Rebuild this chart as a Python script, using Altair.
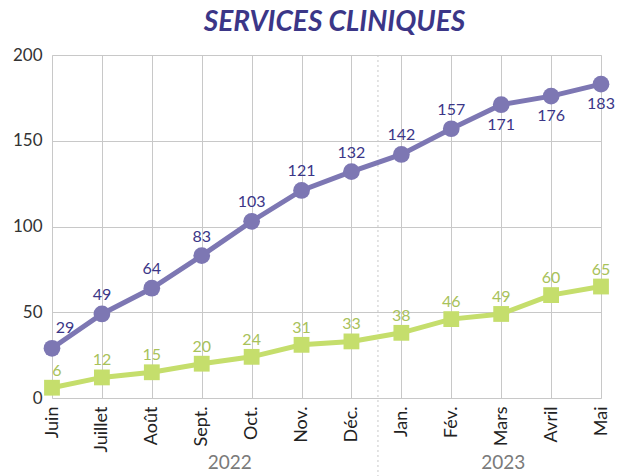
import altair as alt
import pandas as pd

months = ["Juin", "Juillet", "Août", "Sept.", "Oct.", "Nov.", "Déc.",
          "Jan.", "Fév.", "Mars", "Avril", "Mai"]
services = [29, 49, 64, 83, 103, 121, 132, 142, 157, 171, 176, 183]
other = [6, 12, 15, 20, 24, 31, 33, 38, 46, 49, 60, 65]
labels_below = ["Mars", "Avril", "Mai"]
years = ["2022", "2023"]
year_anchor = ["Sept.", "Mars"]

PURPLE = "#7d77b3"
PURPLE_TXT = "#3b3687"
GREEN = "#c5de6c"
GREEN_TXT = "#a8c25a"
FONT = "Lato"

df_p = pd.DataFrame({"month": months, "value": services})
df_p["below"] = df_p["month"].isin(labels_below)
df_p["first"] = df_p["month"] == months[0]
df_g = pd.DataFrame({"month": months, "value": other})
df_g["first"] = df_g["month"] == months[0]

x_enc = alt.X(
    "month:O", sort=months,
    scale=alt.Scale(type="point", padding=0),
    axis=alt.Axis(labelAngle=-90, grid=True, gridColor="#c8c8c8", ticks=False,
                  domain=False, title=None, labelFontSize=18, labelPadding=8,
                  labelColor="#222222", labelFont=FONT),
)
y_enc = alt.Y(
    "value:Q", scale=alt.Scale(domain=[0, 200], nice=False),
    axis=alt.Axis(values=[0, 50, 100, 150, 200], grid=True, gridColor="#c8c8c8",
                  ticks=False, domain=False, title=None, labelFontSize=17,
                  labelPadding=10, labelColor="#333333", labelFont=FONT),
)

# divider between years
div = alt.Chart(pd.DataFrame({"month": ["Déc."]})).mark_rule(
    color="#c8c8c8", strokeDash=[2, 3], strokeWidth=1, xOffset=26.5
).encode(x=alt.X("month:O", sort=months), y=alt.value(0), y2=alt.value(421))

line_p = alt.Chart(df_p).mark_line(color=PURPLE, strokeWidth=5).encode(x=x_enc, y=y_enc)
pts_p = alt.Chart(df_p).mark_point(shape="circle", filled=True, color=PURPLE,
                                   size=280, opacity=1).encode(x=x_enc, y=y_enc)
line_g = alt.Chart(df_g).mark_line(color=GREEN, strokeWidth=5).encode(x=x_enc, y=y_enc)
pts_g = alt.Chart(df_g).mark_point(shape="square", filled=True, color=GREEN,
                                   size=250, opacity=1).encode(x=x_enc, y=y_enc)

txt_p_first = alt.Chart(df_p).transform_filter("datum.first").mark_text(
    color=PURPLE_TXT, fontSize=16, font=FONT, dy=-20, dx=13
).encode(x=x_enc, y=y_enc, text="value:Q")
txt_p_above = alt.Chart(df_p).transform_filter("!datum.below && !datum.first").mark_text(
    color=PURPLE_TXT, fontSize=16, font=FONT, dy=-19
).encode(x=x_enc, y=y_enc, text="value:Q")
txt_p_below = alt.Chart(df_p).transform_filter("datum.below").mark_text(
    color=PURPLE_TXT, fontSize=16, font=FONT, dy=20
).encode(x=x_enc, y=y_enc, text="value:Q")
txt_g_first = alt.Chart(df_g).transform_filter("datum.first").mark_text(
    color=GREEN_TXT, fontSize=16, font=FONT, dy=-17, dx=5
).encode(x=x_enc, y=y_enc, text="value:Q")
txt_g = alt.Chart(df_g).transform_filter("!datum.first").mark_text(
    color=GREEN_TXT, fontSize=16, font=FONT, dy=-17
).encode(x=x_enc, y=y_enc, text="value:Q")

df_y = pd.DataFrame({"year": years, "month": year_anchor})
yr1 = alt.Chart(df_y.iloc[[0]]).mark_text(
    color="#7a7a7a", fontSize=19, font=FONT, dx=28
).encode(x=alt.X("month:O", sort=months), y=alt.value(408), text="year:N")
yr2 = alt.Chart(df_y.iloc[[1]]).mark_text(
    color="#7a7a7a", fontSize=19, font=FONT, dx=2
).encode(x=alt.X("month:O", sort=months), y=alt.value(408), text="year:N")

chart = alt.layer(
    div, line_g, pts_g, line_p, pts_p, txt_g_first, txt_g,
    txt_p_first, txt_p_above, txt_p_below, yr1, yr2
).properties(
    width=549, height=343,
    title=alt.TitleParams("SERVICES CLINIQUES", fontSize=28, font=FONT,
                          fontWeight="bold", fontStyle="italic", color=PURPLE_TXT,
                          anchor="middle", offset=9, dx=8),
    autosize=alt.AutoSizeParams(type="none"),
    padding={"left": 52, "top": 55, "right": 18, "bottom": 78},
).configure_view(stroke=None).configure(background="white")

chart.save("out.html", embed_options={"renderer": "svg", "actions": False})
